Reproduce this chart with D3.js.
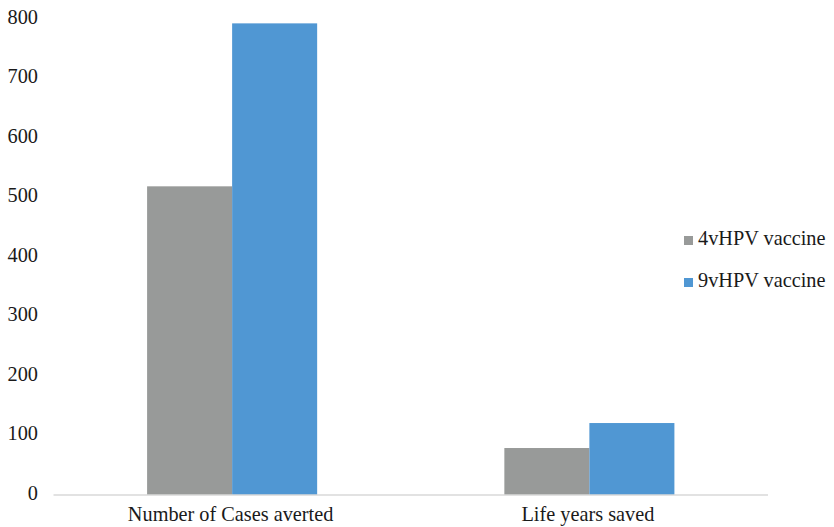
<!DOCTYPE html>
<html>
<head>
<meta charset="utf-8">
<script src="https://cdn.jsdelivr.net/npm/d3@7"></script>
<style>
  html, body { margin: 0; padding: 0; background: #fff; }
  svg { display: block; }
</style>
</head>
<body>
<svg id="chart" width="834" height="527"></svg>
<script>
// Outcomes per vaccine strategy
const categories = ["Number of Cases averted", "Life years saved"];
const seriesNames = ["4vHPV vaccine", "9vHPV vaccine"];
const vaccine4v = [519, 79];
const vaccine9v = [793, 121];
const yTicks = [0, 100, 200, 300, 400, 500, 600, 700, 800];
const colors = ["#989a99", "#5097d3"];

const series = [vaccine4v, vaccine9v];
const FONT = '"Liberation Serif"';
const FONT_SIZE = "20.3px";
const TEXT_COLOR = "#1a1a1a";

const svg = d3.select("#chart");
const plot = { left: 53.5, right: 768, top: 19.2, bottom: 495 };

const x = d3.scaleBand()
  .domain(categories)
  .range([plot.left, plot.right])
  .paddingInner(0.524)
  .paddingOuter(0.262);

const xs = d3.scaleBand()
  .domain(seriesNames)
  .range([0, x.bandwidth()])
  .padding(0);

const y = d3.scaleLinear()
  .domain([0, 800])
  .range([plot.bottom, plot.top]);

// Bars
const groups = svg.append("g")
  .selectAll("g")
  .data(categories)
  .join("g")
  .attr("transform", d => `translate(${x(d)},0)`);

groups.selectAll("rect")
  .data((d, i) => seriesNames.map((s, j) => ({ s, v: series[j][i], j })))
  .join("rect")
  .attr("x", d => xs(d.s))
  .attr("width", xs.bandwidth())
  .attr("y", d => y(d.v))
  .attr("height", d => y(0) - y(d.v))
  .attr("fill", d => colors[d.j]);

// Baseline
svg.append("line")
  .attr("x1", plot.left).attr("x2", plot.right)
  .attr("y1", y(0)).attr("y2", y(0))
  .attr("stroke", "#d9d9d9")
  .attr("stroke-width", 1.5);

function styleText(sel) {
  sel.style("font-family", FONT)
    .style("font-size", FONT_SIZE)
    .attr("fill", TEXT_COLOR);
}

// Y axis labels (no axis line or ticks)
const yAxis = d3.axisLeft(y).tickValues(yTicks).tickSize(0).tickPadding(0);
const yg = svg.append("g")
  .attr("transform", "translate(38,-2.5)")
  .call(yAxis);
yg.select(".domain").remove();
yg.selectAll("text").call(styleText);

// X axis labels
const xAxis = d3.axisBottom(x).tickSize(0).tickPadding(0);
const xg = svg.append("g")
  .attr("transform", `translate(-1.5,${y(0)})`)
  .call(xAxis);
xg.select(".domain").remove();
xg.selectAll("text")
  .attr("dy", null)
  .attr("y", 26)
  .call(styleText);

// Legend
const legend = svg.append("g")
  .selectAll("g")
  .data(seriesNames)
  .join("g")
  .attr("transform", (d, i) => `translate(684,${236 + i * 42})`);

legend.append("rect")
  .attr("width", 9).attr("height", 9)
  .attr("fill", (d, i) => colors[i]);

legend.append("text")
  .attr("x", 14)
  .attr("y", 9)
  .text(d => d)
  .call(styleText);
</script>
</body>
</html>
